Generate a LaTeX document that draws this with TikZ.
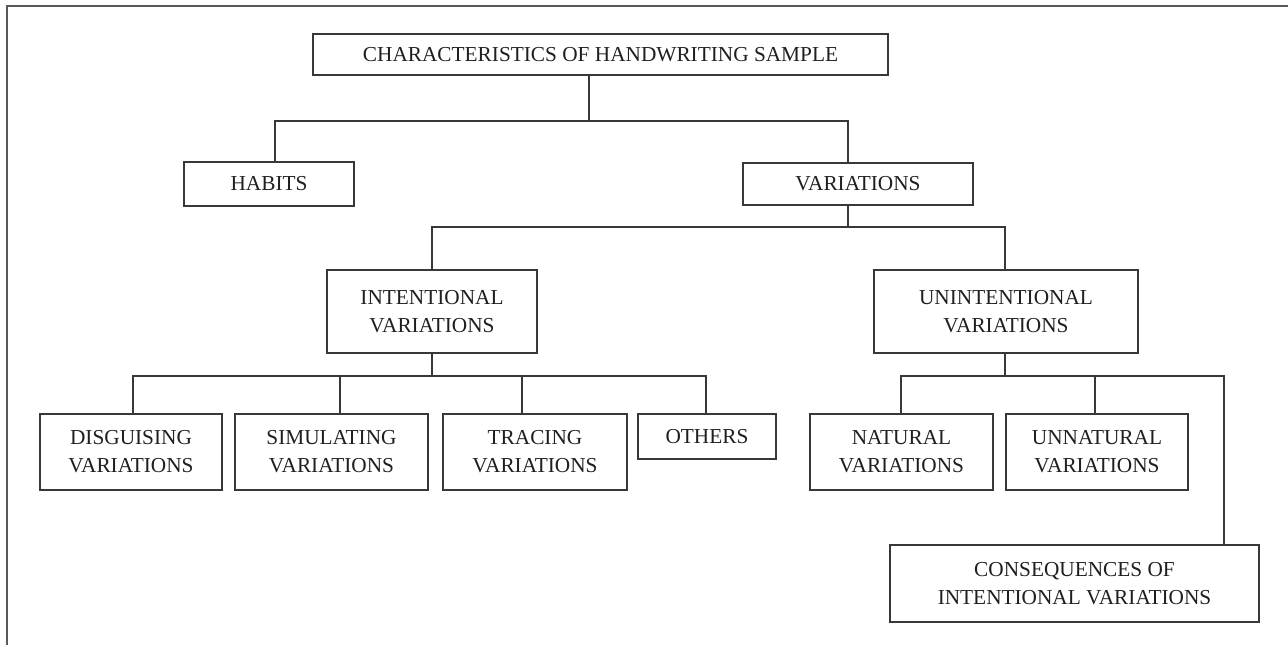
\documentclass[tikz,border=0pt]{standalone}
\usepackage{fontspec}
\setmainfont{Liberation Serif}
\begin{document}
\begin{tikzpicture}[x=1pt,y=-1pt,
  line/.style={draw=black!78,line width=1.5pt},
  box/.style={line, rectangle, inner sep=0pt, align=center,
    text=black!88, font=\fontsize{21.3}{28}\selectfont},
  frameline/.style={draw=black!65,line width=2pt}]
\useasboundingbox (0,0) rectangle (1288,645);
% outer frame (top and left sides)
\draw[frameline] (1290,6) -- (7,6) -- (7,647);

% boxes
\node[box, minimum width=575, minimum height=41] (top) at (600.5,54.5) {CHARACTERISTICS OF HANDWRITING SAMPLE};
\node[box, minimum width=170, minimum height=44] (habits) at (269,184) {HABITS};
\node[box, minimum width=230, minimum height=42] (var) at (858,184) {VARIATIONS};
\node[box, minimum width=210, minimum height=83] (intent) at (432,311.5) {INTENTIONAL\\VARIATIONS};
\node[box, minimum width=264, minimum height=83] (unint) at (1006,311.5) {UNINTENTIONAL\\VARIATIONS};
\node[box, minimum width=182, minimum height=76] (disg) at (131,452) {DISGUISING\\VARIATIONS};
\node[box, minimum width=193, minimum height=76] (simu) at (331.5,452) {SIMULATING\\VARIATIONS};
\node[box, minimum width=184, minimum height=76] (trac) at (535,452) {TRACING\\VARIATIONS};
\node[box, minimum width=138, minimum height=45] (others) at (707,436.5) {OTHERS};
\node[box, minimum width=183, minimum height=76] (nat) at (901.5,452) {NATURAL\\VARIATIONS};
\node[box, minimum width=182, minimum height=76] (unnat) at (1097,452) {UNNATURAL\\VARIATIONS};
\node[box, minimum width=369, minimum height=77] (cons) at (1074.5,583.5) {CONSEQUENCES OF\\INTENTIONAL VARIATIONS};

% bus junctions
\coordinate (b1) at (589,121);
\coordinate (b2) at (848,227);
\coordinate (b3) at (432,376);
\coordinate (b4) at (1005,376);

% connectors
\draw[line] ([xshift=-11.5pt]top.south) -- (b1);
\draw[line] ([xshift=6pt]habits.north) |- (b1) -| ([xshift=-10pt]var.north);

\draw[line] ([xshift=-10pt]var.south) -- (b2);
\draw[line] (intent.north) |- (b2) -| ([xshift=-1pt]unint.north);

\draw[line] (intent.south) -- (b3);
\draw[line] ([xshift=2pt]disg.north) |- (b3) -| ([xshift=-1pt]others.north);
\draw[line] ([xshift=8.5pt]simu.north) |- (b3);
\draw[line] ([xshift=-13pt]trac.north) |- (b3);

\draw[line] ([xshift=-1pt]unint.south) -- (b4);
\draw[line] ([xshift=-0.5pt]nat.north) |- (b4);
\draw[line] ([xshift=-2pt]unnat.north) |- (b4);
\draw[line] ([xshift=149.5pt]cons.north) |- (b4);
\end{tikzpicture}
\end{document}
